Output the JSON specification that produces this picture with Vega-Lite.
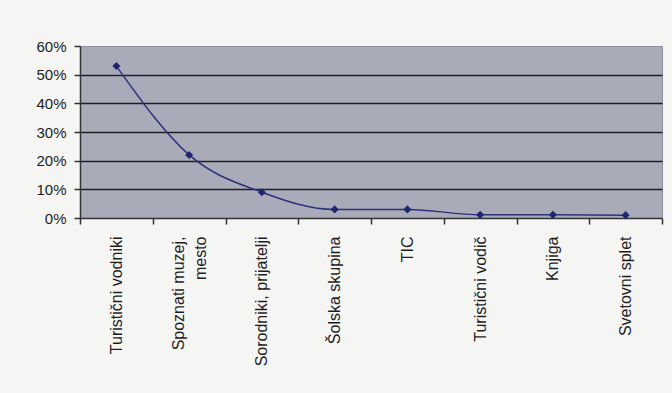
{
  "$schema": "https://vega.github.io/schema/vega-lite/v6.json",
  "width": 582,
  "height": 172,
  "autosize": "none",
  "padding": {"left": 80, "top": 46, "right": 10, "bottom": 175},
  "background": "#f5f5f3",
  "config": {
    "view": {"fill": "#a9abb8", "stroke": "#8e909c", "strokeWidth": 1},
    "font": "Liberation Sans"
  },
  "data": {
    "values": [
      {"vir": "Turistični vodniki", "delez": 0.53},
      {"vir": "Spoznati muzej, mesto", "delez": 0.22},
      {"vir": "Sorodniki, prijatelji", "delez": 0.09},
      {"vir": "Šolska skupina", "delez": 0.03},
      {"vir": "TIC", "delez": 0.03},
      {"vir": "Turistični vodič", "delez": 0.011},
      {"vir": "Knjiga", "delez": 0.011},
      {"vir": "Svetovni splet", "delez": 0.01}
    ]
  },
  "encoding": {
    "x": {
      "field": "vir",
      "type": "nominal",
      "sort": null,
      "scale": {"paddingInner": 0, "paddingOuter": 0},
      "axis": {
        "title": null,
        "labelAngle": -90,
        "labelFontSize": 16,
        "labelColor": "#1e1e1e",
        "labelPadding": 12,
        "labelLineHeight": 22,
        "labelExpr": "datum.value == 'Spoznati muzej, mesto' ? ['Spoznati muzej,', 'mesto\u00a0\u00a0\u00a0\u00a0\u00a0\u00a0\u00a0\u00a0'] : datum.label",
        "labelOffset": {"condition": {"test": "datum.value == 'Spoznati muzej, mesto'", "value": -11}, "value": 0},
        "tickBand": "extent",
        "tickSize": 6,
        "tickColor": "#333",
        "tickWidth": 1.5,
        "domainColor": "#333",
        "domainWidth": 1.5,
        "grid": false
      }
    },
    "y": {
      "field": "delez",
      "type": "quantitative",
      "scale": {"domain": [0, 0.6]},
      "axis": {
        "title": null,
        "format": ".0%",
        "values": [0, 0.1, 0.2, 0.3, 0.4, 0.5, 0.6],
        "labelFontSize": 15,
        "labelColor": "#1e1e1e",
        "labelPadding": 8,
        "tickSize": 6,
        "tickColor": "#333",
        "tickWidth": 1.5,
        "domainColor": "#333",
        "domainWidth": 1.5,
        "grid": true,
        "gridColor": "#1f1f24",
        "gridWidth": 1.5,
        "gridOpacity": {"expr": "datum.value > 0 && datum.value < 0.6 ? 1 : 0"}
      }
    }
  },
  "layer": [
    {
      "mark": {"type": "line", "interpolate": "monotone", "color": "#2b337f", "strokeWidth": 1.5}
    },
    {
      "mark": {"type": "point", "shape": "diamond", "filled": true, "color": "#1f2670", "size": 65, "opacity": 1}
    }
  ]
}
